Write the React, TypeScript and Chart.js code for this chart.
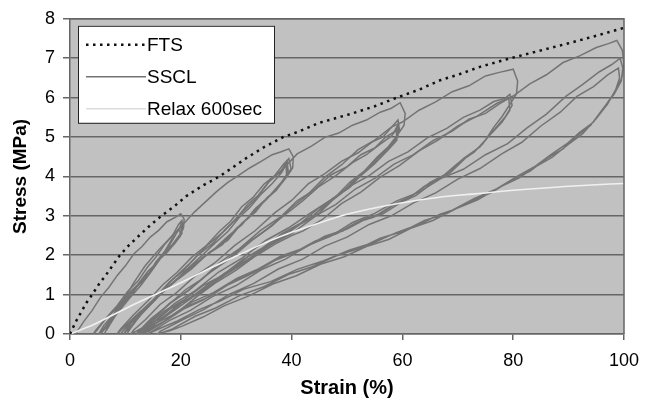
import React, { useEffect, useRef } from 'react';
import { Chart, registerables } from 'chart.js';

Chart.register(...registerables);

type P = [number, number];

const xTicks = [0, 20, 40, 60, 80, 100];
const yTicks = [0, 1, 2, 3, 4, 5, 6, 7, 8];

const legendLabels = ['FTS', 'SSCL', 'Relax 600sec'];

const ftsCurve: P[] = [
  [0, 0], [1, 0.3], [2, 0.55], [3, 0.8], [4, 1.0], [5.2, 1.26], [6.5, 1.5], [7.8, 1.76], [9, 2.0],
  [10.7, 2.26], [12.5, 2.5], [14.5, 2.76], [16.5, 3.0], [18.8, 3.24], [21, 3.5], [24, 3.77], [27, 4.0],
  [29.5, 4.24], [32, 4.48], [35, 4.74], [38.5, 5.0], [41.5, 5.15], [45, 5.36], [50.5, 5.58], [55, 5.78],
  [59, 6.0], [63, 6.2], [66.8, 6.44], [70, 6.58], [74, 6.78], [79, 6.98], [84.5, 7.18], [90, 7.38],
  [95, 7.57], [100, 7.77],
];

const relaxCurve: P[] = [
  [0, 0], [4, 0.22], [8, 0.5], [12, 0.78], [16, 1.04], [20, 1.3], [25, 1.65], [30, 1.98], [35, 2.3],
  [40, 2.58], [45, 2.82], [50, 3.04], [55, 3.2], [60, 3.33], [65, 3.44], [70, 3.52], [75, 3.58],
  [80, 3.65], [85, 3.7], [90, 3.75], [95, 3.79], [100, 3.82],
];

const sscl20: P[] = [
  [1, 0], [2.5, 0.32], [4, 0.6], [5.5, 0.93], [7, 1.18], [8.5, 1.48], [10, 1.73], [11.5, 2.03], [13, 2.22],
  [14.5, 2.46], [16, 2.63], [17.5, 2.85], [19, 2.96], [20, 3.05],
  [20.6, 2.92], [20.5, 2.7], [19.8, 2.52], [18.5, 2.27], [17, 2.08], [15.5, 1.79], [14, 1.58], [12.2, 1.25],
  [10.4, 1.01], [8.4, 0.65], [6.5, 0.4], [4.9, 0.1], [4.2, 0],
  [4.7, 0.1], [6.6, 0.42], [8.5, 0.72], [10.4, 1.08], [12.3, 1.35], [14, 1.7], [15.5, 1.95], [17, 2.26],
  [18.5, 2.5], [19.6, 2.78], [20.2, 2.88],
  [20.4, 2.66], [19.6, 2.44], [18, 2.16], [16.5, 1.97], [15, 1.66], [13.4, 1.43], [11.4, 1.08], [9.6, 0.82],
  [7.6, 0.46], [6.1, 0.22], [5.2, 0],
  [6, 0.12], [8.2, 0.54], [10.1, 0.83], [12.1, 1.2], [14, 1.48], [15.5, 1.83], [17, 2.08], [18.5, 2.43],
  [19.6, 2.63], [20.1, 2.8],
  [20.2, 2.55], [19.2, 2.35], [17.6, 2.08], [16, 1.87], [14.5, 1.56], [12.75, 1.32], [10.8, 0.98],
  [8.9, 0.7], [7.3, 0.36], [6, 0.12], [5.5, 0],
  [6.4, 0.15], [8.7, 0.55], [10.7, 0.9], [12.7, 1.22], [14.5, 1.55], [16, 1.85], [17.5, 2.15], [18.8, 2.45],
  [19.8, 2.7],
  [19.9, 2.48], [18.8, 2.28], [17, 2.02], [15.5, 1.78], [14, 1.5], [12.1, 1.22], [10.2, 0.92], [8.6, 0.62],
  [7.2, 0.3], [6.2, 0],
];

const sscl40: P[] = [
  [6.6, 0.1], [8, 0.42], [9.6, 0.85], [11.5, 1.3], [13.5, 1.72], [16, 2.13], [18.5, 2.5], [20.5, 2.8],
  [22.5, 3.1], [24.5, 3.36], [26.5, 3.62], [28.5, 3.85], [30.5, 4.03], [32.5, 4.22], [34.5, 4.38],
  [36.5, 4.55], [38, 4.62], [39.5, 4.7],
  [40.3, 4.5], [40.2, 4.22], [39.2, 4.0], [37.5, 3.7], [35.5, 3.45], [33.5, 3.1], [31, 2.81], [28.5, 2.38],
  [25.2, 2.08], [22, 1.66], [18.9, 1.33], [15.6, 0.9], [12.5, 0.55], [9.8, 0.18], [8.5, 0],
  [9.1, 0.12], [11.35, 0.47], [14, 0.83], [16.75, 1.25], [19.3, 1.56], [22, 1.95], [24.5, 2.23], [27, 2.61],
  [29, 2.86], [31, 3.23], [33, 3.46], [35, 3.8], [37, 4.03], [38.5, 4.3], [39.5, 4.45],
  [39.9, 4.2], [39, 3.97], [37.2, 3.64], [35, 3.37], [32.5, 2.98], [30, 2.68], [27.5, 2.27], [24, 1.95],
  [20.7, 1.52], [17.7, 1.21], [14.4, 0.76], [11.8, 0.45], [9.6, 0.08], [9.1, 0],
  [10.1, 0.15], [12.45, 0.53], [15.1, 0.88], [17.9, 1.31], [20.4, 1.6], [23.1, 2.01], [25.6, 2.28],
  [28, 2.65], [30, 2.92], [32, 3.28], [34, 3.52], [36, 3.88], [38, 4.12], [39.2, 4.38],
  [39.4, 4.1], [38.2, 3.86], [36, 3.5], [33.5, 3.19], [31, 2.77], [28.5, 2.48], [25.2, 2.05], [22.15, 1.75],
  [18.9, 1.32], [15.8, 0.99], [13, 0.57], [11, 0.27], [9.7, 0],
  [10.5, 0.12], [12.9, 0.5], [15.6, 0.9], [18.25, 1.25], [20.9, 1.62], [23.5, 1.95], [26.1, 2.3],
  [28.5, 2.6], [30.5, 2.95], [32.5, 3.22], [34.5, 3.55], [36.5, 3.82], [38.2, 4.1], [39, 4.3],
  [39.1, 4.02], [37.8, 3.76], [35.5, 3.42], [33, 3.08], [30.5, 2.72], [28, 2.38], [24.6, 2.0], [21.5, 1.66],
  [18.3, 1.28], [15.3, 0.9], [12.8, 0.52], [11, 0.2], [10.3, 0],
];

const sscl60: P[] = [
  [10.6, 0.08], [12.9, 0.52], [15.5, 0.88], [18.25, 1.35], [21.4, 1.76], [24.75, 2.25], [27.9, 2.62],
  [31, 3.08], [33.5, 3.42], [36, 3.88], [38.5, 4.2], [41, 4.57], [43.5, 4.76], [46, 4.99], [48.5, 5.1],
  [51, 5.3], [53.5, 5.43], [56, 5.63], [58, 5.73], [59.6, 5.87],
  [60.5, 5.6], [60.3, 5.3], [59.2, 5.07], [57.5, 4.76], [55.5, 4.5], [53, 4.12], [50.5, 3.85], [48, 3.49],
  [45, 3.21], [41.7, 2.82], [38.25, 2.55], [34.6, 2.17], [31.1, 1.88], [27.5, 1.49], [24, 1.23],
  [20.4, 0.85], [17, 0.58], [13.9, 0.22], [11, 0],
  [11.5, 0.1], [13.6, 0.36], [16.25, 0.75], [19.25, 1.05], [22.4, 1.45], [26, 1.79], [29.75, 2.25],
  [33.4, 2.62], [37, 3.08], [40, 3.39], [43, 3.81], [46, 4.07], [49, 4.38], [52, 4.6], [54.5, 4.87],
  [56.5, 5.0], [58, 5.24], [59.2, 5.43],
  [59.5, 5.15], [58.5, 4.9], [56.5, 4.62], [54, 4.22], [51.5, 3.93], [49, 3.57], [46, 3.28], [43, 2.89],
  [39.4, 2.63], [35.75, 2.25], [32.3, 1.98], [28.6, 1.57], [25.1, 1.28], [21.5, 0.89], [18, 0.63],
  [14.95, 0.27], [12.4, 0.06], [12, 0],
  [12.3, 0.06], [14.7, 0.4], [17.7, 0.73], [20.9, 1.13], [23.8, 1.39], [27, 1.81], [30.6, 2.17],
  [34.4, 2.63], [38, 2.97], [41, 3.38], [44, 3.65], [47, 4.03], [50, 4.25], [52.5, 4.55], [55, 4.72],
  [57, 5.0], [58.5, 5.13], [59.1, 5.28],
  [59.2, 5.0], [57.8, 4.77], [55.5, 4.4], [53, 4.11], [50.5, 3.72], [48, 3.48], [45, 3.07], [41.7, 2.81],
  [38, 2.42], [34.6, 2.15], [30.9, 1.75], [27.4, 1.45], [23.75, 1.05], [20.35, 0.81], [16.7, 0.42],
  [13.8, 0.2], [12.5, 0],
  [12.6, 0.1], [15.2, 0.42], [18.3, 0.8], [21.3, 1.1], [24.5, 1.48], [28.1, 1.85], [31.8, 2.28],
  [35.4, 2.65], [39, 3.05], [42, 3.38], [45, 3.75], [48, 4.02], [51, 4.35], [53.5, 4.55], [56, 4.82],
  [58, 5.02], [58.9, 5.18],
  [59, 4.92], [57.5, 4.68], [55, 4.32], [52.5, 4.02], [50, 3.68], [47, 3.35], [44, 3.02], [40.5, 2.68],
  [36.9, 2.36], [33.4, 2.02], [29.8, 1.68], [26.2, 1.32], [22.6, 0.98], [19, 0.62], [16, 0.32],
  [13.3, 0.05], [12.8, 0],
];

const sscl80: P[] = [
  [13, 0.06], [14.6, 0.33], [17.9, 0.77], [21.55, 1.12], [25.4, 1.58], [29, 1.92], [32.9, 2.38],
  [36.5, 2.75], [40, 3.21], [43, 3.55], [46, 3.98], [49, 4.29], [52, 4.68], [55, 4.92], [58, 5.25],
  [60, 5.38], [63, 5.68], [66, 5.89], [69, 6.15], [72, 6.3], [75, 6.55], [77.5, 6.64], [80, 6.72],
  [80.8, 6.42], [80.6, 6.1], [79.6, 5.87], [78, 5.52], [76.5, 5.25], [74.5, 4.82], [71.5, 4.48],
  [68.6, 4.09], [65.5, 3.85], [62.5, 3.52], [59.6, 3.33], [56.5, 3.05], [53.3, 2.91], [49.9, 2.66],
  [46, 2.48], [42, 2.17], [38.1, 1.98], [34, 1.65], [30.1, 1.41], [25.9, 1.05], [22, 0.81], [18.4, 0.47],
  [14.9, 0.24], [12.3, 0],
  [12.7, 0.06], [15.7, 0.38], [18.9, 0.78], [22.5, 1.09], [26.9, 1.58], [31, 1.92], [35.4, 2.38],
  [39.4, 2.69], [43.5, 3.08], [47, 3.39], [50.5, 3.75], [54, 4.02], [57.5, 4.38], [61, 4.62],
  [64.5, 4.98], [68, 5.22], [71, 5.5], [74, 5.68], [76.5, 5.9], [78.5, 5.98], [79.4, 6.08],
  [79.8, 5.8], [78.5, 5.5], [76.5, 5.18], [74, 4.75], [71, 4.45], [68, 4.07], [65, 3.85], [62, 3.53],
  [59, 3.33], [56, 3.05], [52.8, 2.91], [49.3, 2.62], [45.45, 2.43], [41.4, 2.12], [37.5, 1.91],
  [33.4, 1.57], [29.4, 1.33], [25.2, 0.95], [21.3, 0.71], [17.7, 0.37], [14.8, 0.17], [13, 0],
  [13.6, 0.08], [16.7, 0.4], [19.9, 0.78], [23.5, 1.07], [27.8, 1.53], [31.9, 1.85], [36.1, 2.25],
  [40.2, 2.57], [44.5, 3.01], [48, 3.29], [51.5, 3.68], [55, 3.95], [58.5, 4.31], [62, 4.55],
  [65.5, 4.91], [69, 5.15], [72, 5.45], [75, 5.6], [77.5, 5.84], [79.2, 5.98],
  [79.4, 5.68], [78, 5.38], [75.8, 5.05], [73, 4.62], [70, 4.33], [67, 3.97], [64, 3.75], [61, 3.43],
  [58, 3.25], [54.9, 2.97], [51.7, 2.83], [48.2, 2.55], [44.3, 2.36], [40.3, 2.05], [36.35, 1.83],
  [32.2, 1.49], [28.25, 1.23], [24.1, 0.87], [20.1, 0.61], [16.5, 0.27], [13.9, 0.06], [13.5, 0],
];

const sscl100: P[] = [
  [14, 0.05], [17, 0.32], [20, 0.62], [23, 0.96], [26.5, 1.32], [30, 1.62], [33.5, 1.98], [37, 2.28],
  [40, 2.5], [42, 2.61], [45.5, 2.9], [49, 3.31], [52.5, 3.6], [56, 3.98], [59.5, 4.28], [63, 4.65],
  [66.5, 4.93], [70, 5.28], [73.5, 5.53], [77, 5.85], [80, 6.04], [83, 6.35], [86, 6.58], [89, 6.89],
  [92, 7.06], [95, 7.27], [97.2, 7.37], [98.7, 7.45],
  [99.7, 7.2], [100, 6.85], [99.6, 6.5], [98.3, 6.13], [96.5, 5.77], [94.5, 5.38], [92, 5.12], [89.7, 4.83],
  [87, 4.57], [84, 4.26], [80.7, 4.0], [77, 3.68], [73, 3.44], [69, 3.14], [66.8, 3.04], [63, 2.78],
  [59, 2.58], [55, 2.33], [50.5, 2.13], [45.8, 1.86], [41, 1.64], [36.2, 1.33], [31.4, 1.14], [27, 0.83],
  [23.3, 0.62], [19.4, 0.33], [16.2, 0.14], [14, 0],
  [14.6, 0.05], [17.9, 0.34], [21.75, 0.6], [25.7, 0.95], [30, 1.23], [34.5, 1.63], [38.9, 1.9],
  [43, 2.25], [47, 2.48], [51, 2.83], [55, 3.06], [59, 3.38], [63, 3.6], [67, 3.95], [71, 4.18],
  [75, 4.55], [79, 4.83], [82.5, 5.23], [86, 5.58], [89.5, 6.03], [92.5, 6.33], [95.5, 6.65],
  [97.8, 6.84], [99.3, 7.0],
  [99.8, 6.75], [99.5, 6.42], [98.2, 6.08], [96.2, 5.72], [94, 5.3], [91.5, 5.03], [89, 4.7], [86, 4.45],
  [83, 4.13], [80, 3.93], [76, 3.58], [72, 3.35], [68, 3.06], [64, 2.88], [60, 2.6], [56, 2.43],
  [52, 2.16], [48, 1.98], [43.6, 1.7], [39.4, 1.51], [35, 1.2], [30.7, 0.98], [26.3, 0.66], [22.6, 0.45],
  [18.5, 0.13], [16, 0],
  [16.2, 0.06], [20.5, 0.37], [24.3, 0.63], [28.8, 1.01], [33.1, 1.28], [37.6, 1.65], [42, 1.9],
  [46, 2.23], [50, 2.46], [54, 2.78], [58, 3.0], [62, 3.33], [66, 3.58], [70, 3.93], [74, 4.2],
  [78, 4.58], [81.5, 4.86], [85, 5.28], [88.5, 5.63], [91.5, 6.03], [94.5, 6.28], [97, 6.57], [99, 6.75],
  [99.2, 6.5], [98.5, 6.2], [97, 5.83], [95, 5.47], [92.5, 5.08], [90, 4.82], [87, 4.48], [84, 4.24],
  [81, 3.96], [77.5, 3.72], [73.5, 3.4], [69.5, 3.17], [65.5, 2.88], [61.5, 2.68], [57.5, 2.4],
  [53.5, 2.22], [49.5, 1.96], [45.2, 1.77], [40.85, 1.48], [36.6, 1.27], [32.2, 0.96], [27.9, 0.72],
  [24, 0.43], [20.25, 0.2], [18, 0.08], [15.5, 0],
];

const ssclSteps: P[][] = [sscl20, sscl40, sscl60, sscl80, sscl100];

const FONT = "'Liberation Sans', Arial, sans-serif";
const PLOT_BG = '#c1c1c1';
const GRID = '#666666';
const FTS_COLOR = '#111111';
const SSCL_COLOR = '#747474';
const RELAX_COLOR = '#f0f0f0';

const toXY = (pts: P[]) => pts.map(([x, y]) => ({ x, y }));

export default function App() {
  const ref = useRef<HTMLCanvasElement>(null);

  useEffect(() => {
    document.body.style.margin = '0';
    const canvas = ref.current;
    if (!canvas) return;

    const plotBg = {
      id: 'plotBg',
      beforeDraw(chart: any) {
        const { ctx, chartArea } = chart;
        ctx.save();
        ctx.fillStyle = PLOT_BG;
        ctx.fillRect(chartArea.left, chartArea.top, chartArea.right - chartArea.left, chartArea.bottom - chartArea.top);
        ctx.restore();
      },
    };

    const frame = {
      id: 'frame',
      afterDatasetsDraw(chart: any) {
        const { ctx, chartArea } = chart;
        ctx.save();
        ctx.strokeStyle = GRID;
        ctx.lineWidth = 1.5;
        ctx.beginPath();
        ctx.moveTo(chartArea.left, chartArea.top);
        ctx.lineTo(chartArea.right, chartArea.top);
        ctx.lineTo(chartArea.right, chartArea.bottom);
        ctx.stroke();
        ctx.restore();
      },
    };

    const legendBox = {
      id: 'legendBox',
      afterDatasetsDraw(chart: any) {
        const { ctx, chartArea } = chart;
        const bx = chartArea.left + 8;
        const by = chartArea.top + 7;
        const bw = 196;
        const bh = 97;
        ctx.save();
        ctx.fillStyle = '#ffffff';
        ctx.fillRect(bx, by, bw, bh);
        ctx.strokeStyle = '#222222';
        ctx.lineWidth = 1;
        ctx.strokeRect(bx + 0.5, by + 0.5, bw, bh);
        const styles = [
          { color: FTS_COLOR, width: 2.5, dash: [2.5, 4.5] },
          { color: SSCL_COLOR, width: 1.5, dash: [] as number[] },
          { color: '#dcdcdc', width: 1.5, dash: [] as number[] },
        ];
        legendLabels.forEach((label, i) => {
          const y = by + 19 + i * 32;
          const s = styles[i];
          ctx.strokeStyle = s.color;
          ctx.lineWidth = s.width;
          ctx.setLineDash(s.dash);
          ctx.beginPath();
          ctx.moveTo(bx + 8, y);
          ctx.lineTo(bx + 68, y);
          ctx.stroke();
          ctx.setLineDash([]);
          ctx.fillStyle = '#000000';
          ctx.font = `19px ${FONT}`;
          ctx.textBaseline = 'middle';
          ctx.textAlign = 'left';
          ctx.fillText(label, bx + 69, y + 1);
        });
        ctx.restore();
      },
    };

    const datasets: any[] = [
      {
        label: 'FTS',
        data: toXY(ftsCurve),
        borderColor: FTS_COLOR,
        borderWidth: 2.5,
        borderDash: [2.5, 4.5],
        pointRadius: 0,
        showLine: true,
        tension: 0,
      },
      {
        label: 'Relax 600sec',
        data: toXY(relaxCurve),
        borderColor: RELAX_COLOR,
        borderWidth: 1.6,
        pointRadius: 0,
        showLine: true,
        tension: 0.2,
      },
      ...ssclSteps.map((pts) => ({
        label: 'SSCL',
        data: toXY(pts),
        borderColor: SSCL_COLOR,
        borderWidth: 1.5,
        pointRadius: 0,
        showLine: true,
        tension: 0,
      })),
    ];

    const chart = new Chart(canvas, {
      type: 'scatter',
      data: { datasets },
      options: {
        animation: false,
        responsive: false,
        layout: { padding: { left: 8, top: 16, right: 30, bottom: 0 } },
        plugins: { legend: { display: false }, tooltip: { enabled: false } },
        scales: {
          x: {
            type: 'linear',
            min: 0,
            max: 100,
            afterBuildTicks: (scale: any) => {
              scale.ticks = xTicks.map((v) => ({ value: v }));
            },
            afterFit: (scale: any) => {
              scale.height = 66;
            },
            ticks: { color: '#000', font: { family: FONT, size: 18 }, padding: 10 },
            grid: { drawOnChartArea: false, drawTicks: true, tickLength: 6, color: GRID, lineWidth: 1.5 },
            border: { display: true, color: GRID, width: 1.5 },
            title: {
              display: true,
              text: 'Strain (%)',
              color: '#000',
              font: { family: FONT, size: 20, weight: 'bold' },
              padding: { top: 0, bottom: 0 },
            },
          },
          y: {
            type: 'linear',
            min: 0,
            max: 8,
            afterBuildTicks: (scale: any) => {
              scale.ticks = yTicks.map((v) => ({ value: v }));
            },
            afterFit: (scale: any) => {
              scale.width = 62;
            },
            ticks: { color: '#000', font: { family: FONT, size: 18 }, padding: 8 },
            grid: { drawTicks: true, tickLength: 7, color: GRID, lineWidth: 1.5 },
            border: { display: true, color: GRID, width: 1.5 },
            title: {
              display: true,
              text: 'Stress (MPa)',
              color: '#000',
              font: { family: FONT, size: 19, weight: 'bold' },
              padding: { top: 1, bottom: 0 },
            },
          },
        },
      },
      plugins: [plotBg, frame, legendBox],
    } as any);

    return () => {
      chart.destroy();
    };
  }, []);

  return (
    <div style={{ width: 654, height: 400 }}>
      <canvas ref={ref} width={654} height={400} style={{ display: 'block' }} />
    </div>
  );
}
